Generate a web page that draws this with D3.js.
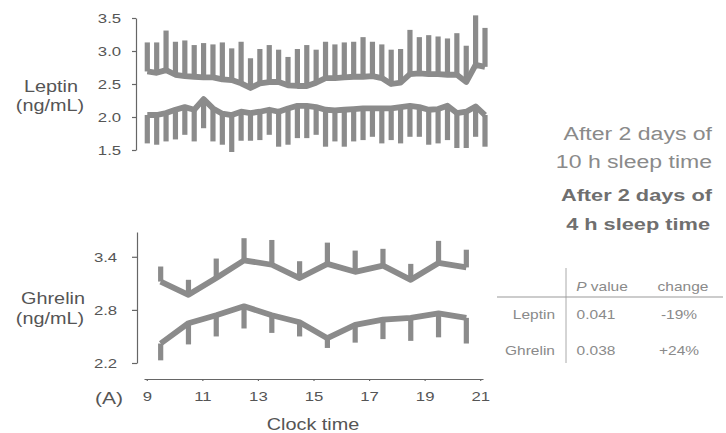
<!DOCTYPE html>
<html>
<head>
<meta charset="utf-8">
<script src="https://cdn.jsdelivr.net/npm/d3@7"></script>
<style>
body { margin: 0; background: #fff; }
text { font-family: "Liberation Sans", Arial, sans-serif; }
</style>
</head>
<body>
<div id="chart"></div>
<script>
// leptin sampled every 20 min, ghrelin hourly
var leptinTimes = ["9:00","9:20","9:40","10:00","10:20","10:40","11:00","11:20","11:40","12:00",
  "12:20","12:40","13:00","13:20","13:40","14:00","14:20","14:40","15:00","15:20",
  "15:40","16:00","16:20","16:40","17:00","17:20","17:40","18:00","18:20","18:40",
  "19:00","19:20","19:40","20:00","20:20","20:40","21:00"];
var leptin10h = [2.69,2.67,2.71,2.64,2.62,2.61,2.60,2.60,2.57,2.56,
  2.51,2.44,2.51,2.53,2.53,2.48,2.47,2.47,2.52,2.59,
  2.59,2.60,2.61,2.61,2.62,2.59,2.50,2.52,2.65,2.66,
  2.65,2.65,2.64,2.64,2.53,2.79,2.76];
var leptin10hErr = [0.44,0.46,0.60,0.50,0.54,0.48,0.52,0.50,0.56,0.48,
  0.63,0.45,0.52,0.56,0.49,0.43,0.56,0.62,0.50,0.55,
  0.51,0.53,0.53,0.60,0.52,0.51,0.52,0.51,0.67,0.55,
  0.59,0.57,0.55,0.63,0.55,0.75,0.59];
var leptin4h = [2.03,2.03,2.06,2.11,2.15,2.11,2.27,2.13,2.05,2.03,
  2.08,2.06,2.08,2.11,2.08,2.13,2.17,2.17,2.15,2.11,
  2.10,2.11,2.12,2.13,2.13,2.13,2.13,2.15,2.17,2.15,
  2.11,2.12,2.17,2.06,2.08,2.16,2.03];
var leptin4hErr = [0.43,0.45,0.43,0.45,0.42,0.48,0.44,0.50,0.47,0.56,
  0.44,0.42,0.43,0.38,0.53,0.55,0.49,0.49,0.42,0.56,
  0.47,0.56,0.49,0.48,0.43,0.53,0.48,0.55,0.47,0.45,
  0.53,0.52,0.52,0.53,0.55,0.46,0.48];

var ghrelinTimes = ["9:30","10:30","11:30","12:30","13:30","14:30","15:30","16:30","17:30","18:30","19:30","20:30"];
var ghrelin4h = [3.12,2.97,3.16,3.36,3.31,3.16,3.32,3.23,3.30,3.14,3.33,3.28];
var ghrelin4hErr = [0.17,0.17,0.22,0.25,0.28,0.19,0.24,0.24,0.19,0.18,0.25,0.20];
var ghrelin10h = [2.42,2.65,2.74,2.84,2.74,2.66,2.48,2.63,2.69,2.71,2.76,2.71];
var ghrelin10hErr = [0.19,0.24,0.24,0.25,0.20,0.16,0.11,0.20,0.22,0.26,0.27,0.29];

var leptinTicks = [1.5, 2.0, 2.5, 3.0, 3.5];
var ghrelinTicks = [2.2, 2.8, 3.4];
var hourTicks = [9, 11, 13, 15, 17, 19, 21];

var statNames = ["Leptin", "Ghrelin"];
var pValues = ["0.041", "0.038"];
var changes = ["-19%", "+24%"];

var W = 726, H = 433;
var grey = "#8b8b8b";
var sx = 1.24; // the scanned figure is a bit wider than tall

function hrs(s) { var p = s.split(":"); return +p[0] + (+p[1]) / 60; }

function stretch(sel, x, y, k) {
  return sel.attr("transform", "translate(" + x + "," + y + ") scale(" + (k || sx) + ",1)");
}

var svg = d3.select("#chart").append("svg")
  .attr("width", W)
  .attr("height", H);

var xTop = d3.scaleLinear().domain([9, 21]).range([147.3, 485]);
var xBot = d3.scaleLinear().domain([8.9, 21.1]).range([144, 483]);
var yLep = d3.scaleLinear().domain([1.5, 3.5]).range([150, 18]);
var yGhr = d3.scaleLinear().domain([2.2, 3.68]).range([363, 232]);

function drawSeries(g, times, vals, errs, x, y, dir) {
  var pts = times.map(function(t, i) { return {t: hrs(t), v: vals[i], e: errs[i]}; });
  g.append("g").selectAll("line")
    .data(pts).enter().append("line")
    .attr("x1", function(d) { return x(d.t); })
    .attr("x2", function(d) { return x(d.t); })
    .attr("y1", function(d) { return y(d.v); })
    .attr("y2", function(d) { return y(d.v + dir * d.e); })
    .attr("stroke", grey)
    .attr("stroke-width", 5.2);
  g.append("path")
    .datum(pts)
    .attr("fill", "none")
    .attr("stroke", grey)
    .attr("stroke-width", 5.8)
    .attr("stroke-linejoin", "round")
    .attr("d", d3.line().x(function(d) { return x(d.t); }).y(function(d) { return y(d.v); }));
}

function styleAxis(g) {
  g.selectAll("path, line").attr("stroke", "#666").attr("stroke-width", 1.2);
  g.selectAll("text").attr("fill", "#555").style("font-size", "13.5px")
    .attr("transform", "scale(" + sx + ",1)");
}

// leptin panel
var lepPanel = svg.append("g");
lepPanel.append("g")
  .attr("transform", "translate(136,0)")
  .call(d3.axisLeft(yLep).tickValues(leptinTicks).tickFormat(d3.format(".1f"))
    .tickSizeInner(4).tickSizeOuter(0).tickPadding(8))
  .call(styleAxis);
drawSeries(lepPanel, leptinTimes, leptin10h, leptin10hErr, xTop, yLep, 1);
drawSeries(lepPanel, leptinTimes, leptin4h, leptin4hErr, xTop, yLep, -1);

// ghrelin panel
var ghrPanel = svg.append("g");
ghrPanel.append("g")
  .attr("transform", "translate(137,0)")
  .call(d3.axisLeft(yGhr).tickValues(ghrelinTicks).tickFormat(d3.format(".1f"))
    .tickSizeInner(5).tickSizeOuter(0).tickPadding(11))
  .call(styleAxis);
drawSeries(ghrPanel, ghrelinTimes, ghrelin4h, ghrelin4hErr, xBot, yGhr, 1);
drawSeries(ghrPanel, ghrelinTimes, ghrelin10h, ghrelin10hErr, xBot, yGhr, -1);

ghrPanel.append("g")
  .attr("transform", "translate(0,379)")
  .call(d3.axisBottom(xBot).tickValues(hourTicks).tickSizeInner(2).tickSizeOuter(0).tickPadding(10))
  .call(styleAxis);

// axis titles
var lab = svg.append("g").attr("fill", "#555").style("font-size", "16px").attr("text-anchor", "middle");
stretch(lab.append("text").text("Leptin"), 51, 92);
stretch(lab.append("text").text("(ng/mL)"), 50, 111);
stretch(lab.append("text").text("Ghrelin"), 53, 304);
stretch(lab.append("text").text("(ng/mL)"), 50, 324);
stretch(lab.append("text").text("Clock time"), 313, 430);
stretch(lab.append("text").text("(A)").style("font-size", "17px"), 109, 404);

// legend
var leg = svg.append("g").attr("text-anchor", "end");
stretch(leg.append("text").text("After 2 days of").attr("fill", "#8a8a8a").style("font-size", "18px"), 712, 140, 1.28);
stretch(leg.append("text").text("10 h sleep time").attr("fill", "#8a8a8a").style("font-size", "18px"), 712, 168, 1.28);
stretch(leg.append("text").text("After 2 days of").attr("fill", "#6f6f6f").style("font-size", "17px").style("font-weight", "bold"), 712, 201, 1.28);
stretch(leg.append("text").text("4 h sleep time").attr("fill", "#6f6f6f").style("font-size", "17px").style("font-weight", "bold"), 710, 230, 1.28);

// stats table
var tab = svg.append("g").attr("fill", "#8a8a8a").style("font-size", "12.5px");
tab.append("line").attr("x1", 566).attr("x2", 566).attr("y1", 268).attr("y2", 363)
  .attr("stroke", "#aaa").attr("stroke-width", 1);
tab.append("line").attr("x1", 497).attr("x2", 723).attr("y1", 297).attr("y2", 297)
  .attr("stroke", "#999").attr("stroke-width", 1.2);
var head = stretch(tab.append("text").attr("text-anchor", "middle"), 602, 291);
head.append("tspan").text("P").style("font-style", "italic");
head.append("tspan").text(" value");
stretch(tab.append("text").attr("text-anchor", "middle").text("change"), 683, 291);

var rowY = d3.scalePoint().domain(statNames).range([319, 355]);
statNames.forEach(function(name, i) {
  stretch(tab.append("text").attr("text-anchor", "end").text(name), 555, rowY(name));
  stretch(tab.append("text").attr("text-anchor", "middle").text(pValues[i]), 596, rowY(name));
  stretch(tab.append("text").attr("text-anchor", "middle").text(changes[i]), 679, rowY(name));
});
</script>
</body>
</html>
